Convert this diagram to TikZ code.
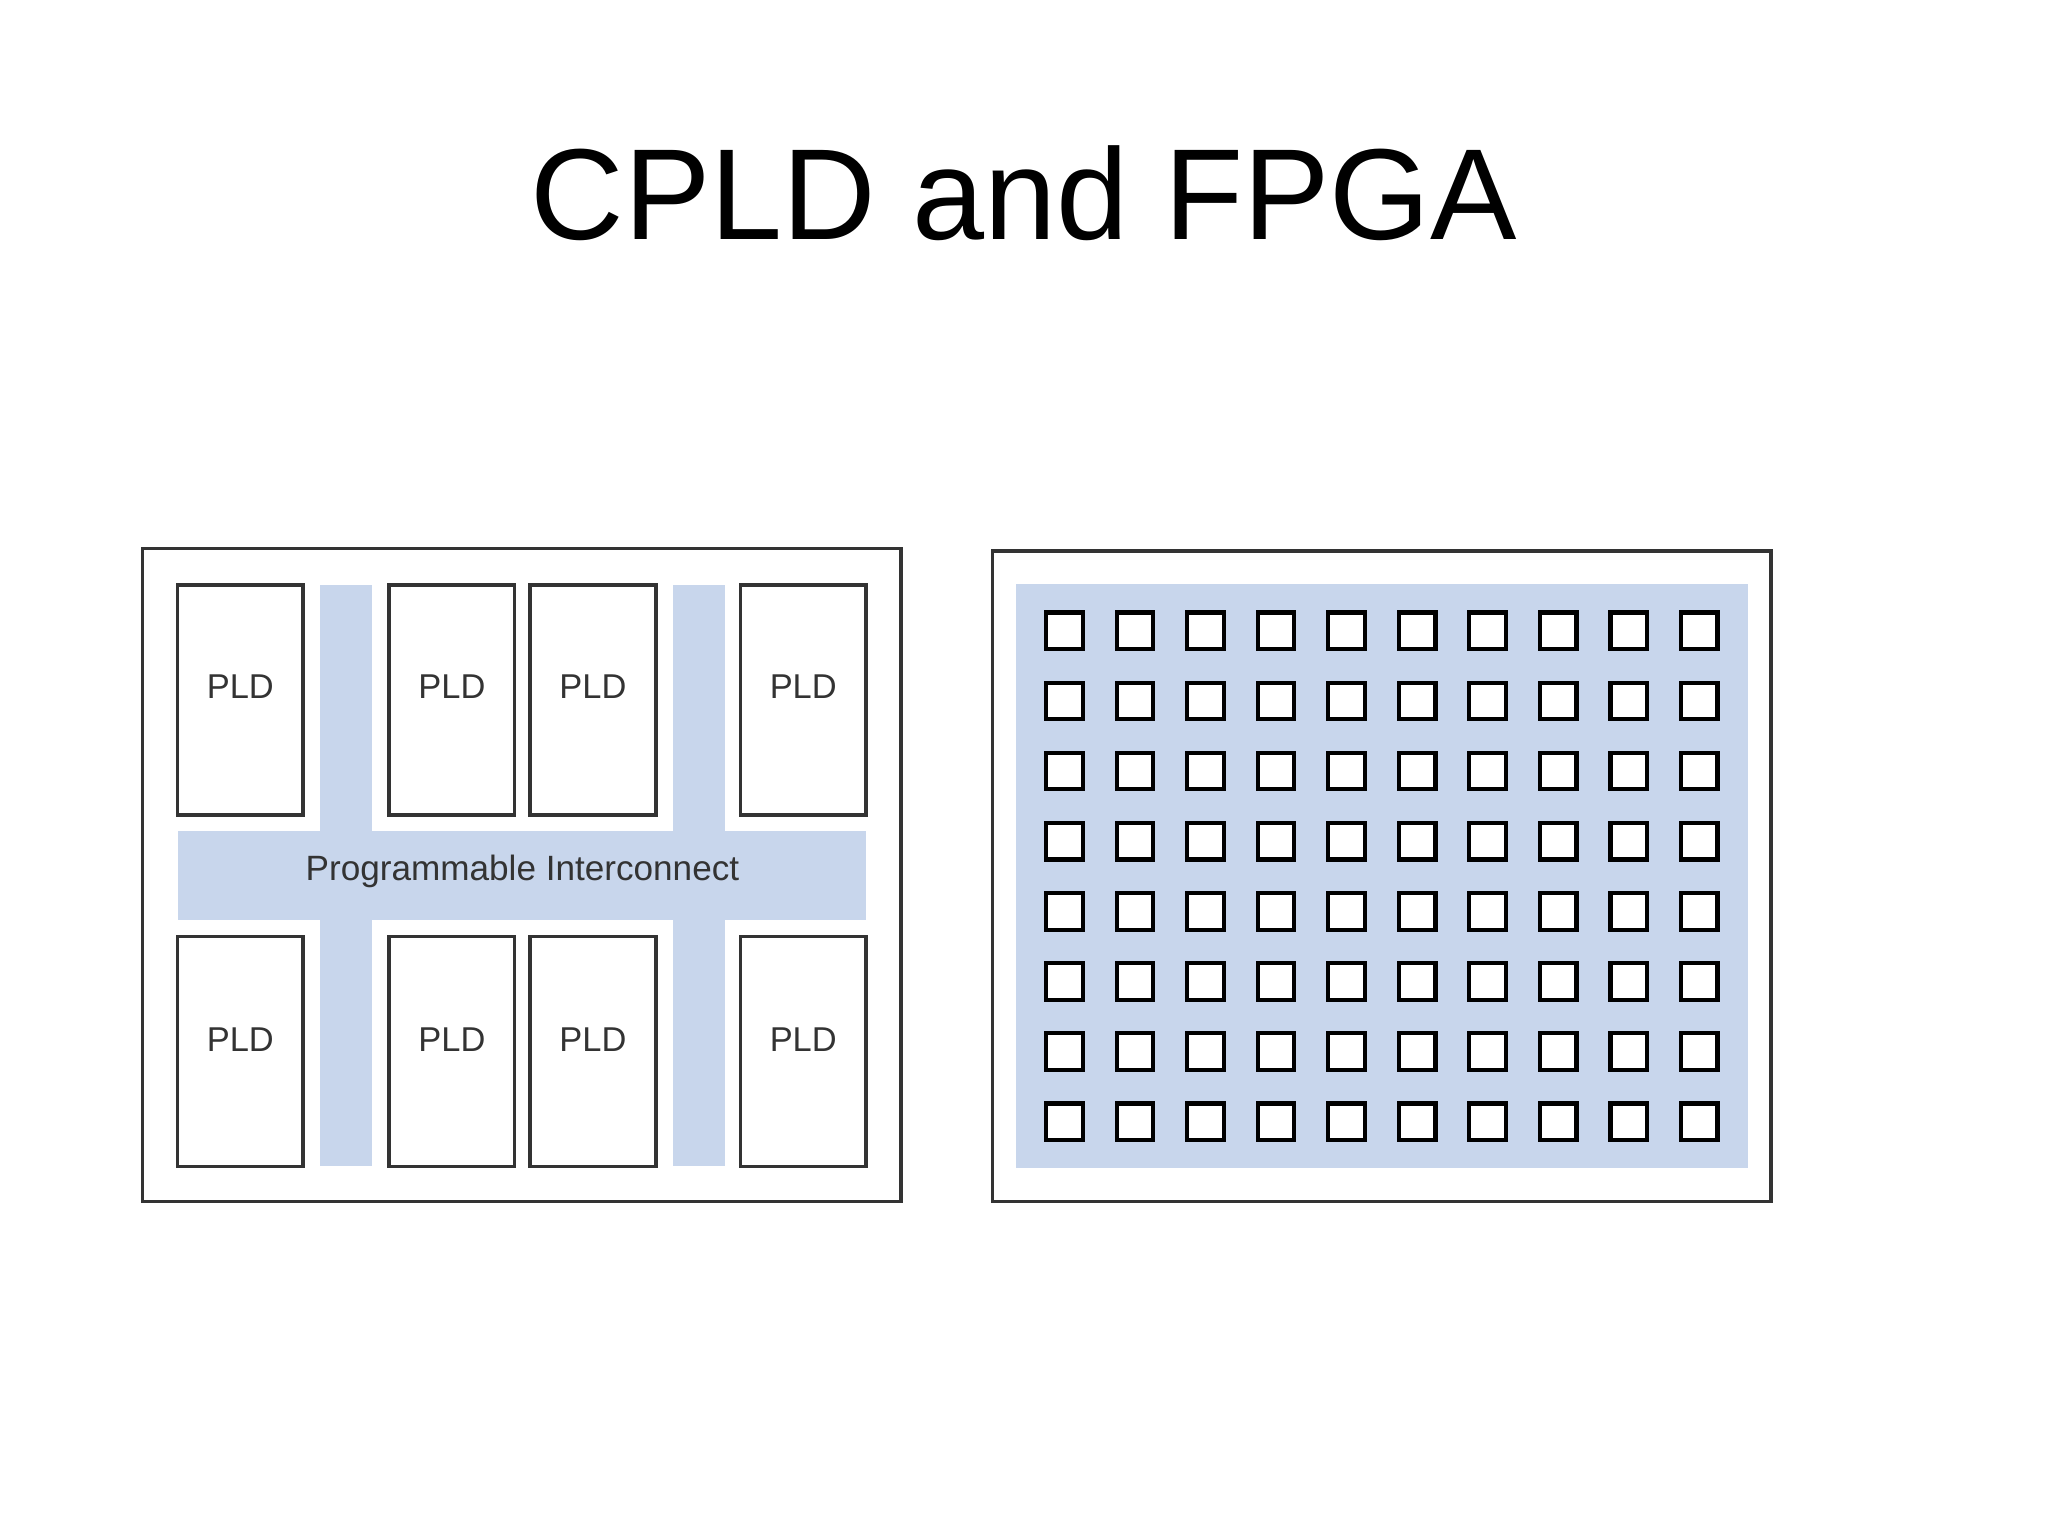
\documentclass[tikz,border=0pt]{standalone}
\usepackage{fontspec}
\setmainfont{Liberation Sans}
\definecolor{ib}{HTML}{C8D6EC}
\definecolor{bd}{HTML}{333333}
\begin{document}
\begin{tikzpicture}[x=0.01cm,y=-0.01cm,
  frame/.style={draw=bd,line width=0.8pt,fill=white},
  pld/.style={draw=bd,line width=0.8pt,fill=white},
  band/.style={fill=ib},
  cell/.style={draw=black,line width=0.9pt,fill=white,minimum size=0.28cm,inner sep=0pt}]
\useasboundingbox (0,0) rectangle (1568,1176);
\node (title) at (784,148) {\fontsize{28.2}{34}\selectfont CPLD and FPGA};
% CPLD
\draw[frame] (109,420) rectangle (690,920);
\fill[band] (245,448) rectangle (285,893);
\fill[band] (515,448) rectangle (555,893);
\fill[band] (136,636) rectangle (663,704);
\node (pi) at (400,667) {\fontsize{7.65}{9}\selectfont\color{bd}Programmable Interconnect};
\foreach \a/\b [count=\i] in {136/232,298/394,406/502,567/663}{
  \draw[pld] (\a,448) rectangle (\b,624);
  \node (pt\i) at ({(\a+\b)/2},526) {\fontsize{7.5}{9}\selectfont\color{bd}PLD};
  \draw[pld] (\a,717) rectangle (\b,893);
  \node (pb\i) at ({(\a+\b)/2},796) {\fontsize{7.5}{9}\selectfont\color{bd}PLD};
}
% FPGA
\draw[frame] (760,422) rectangle (1356,920);
\fill[band] (778,447) rectangle (1338,894);
\foreach \c in {0,...,9}{
  \foreach \r in {0,...,7}{
    \node[cell] (c\c-\r) at ({815+54*\c},{483+53.7*\r}) {};
  }
}
\end{tikzpicture}
\end{document}
